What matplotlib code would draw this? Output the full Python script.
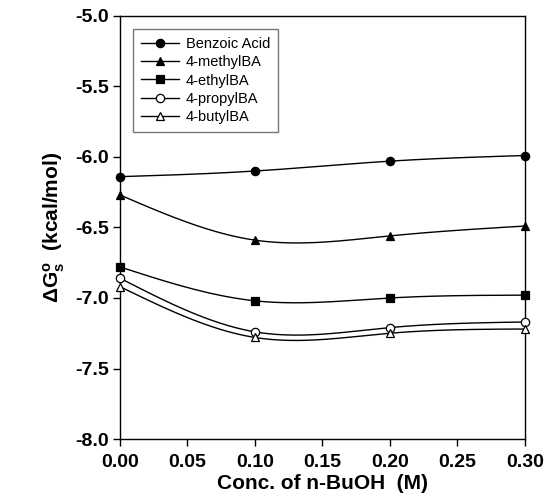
import numpy as np
import matplotlib
matplotlib.use("Agg")
import matplotlib.pyplot as plt

plt.rcParams["font.family"] = ["Liberation Sans", "DejaVu Sans"]
plt.rcParams["mathtext.fontset"] = "custom"
plt.rcParams["mathtext.rm"] = "Liberation Sans"
plt.rcParams["mathtext.bf"] = "Liberation Sans:bold"

conc = [0.00, 0.10, 0.20, 0.30]
benzoic = [-6.14, -6.10, -6.03, -5.99]
methyl = [-6.27, -6.59, -6.56, -6.49]
ethyl = [-6.78, -7.02, -7.00, -6.98]
propyl = [-6.86, -7.24, -7.21, -7.17]
butyl = [-6.92, -7.28, -7.25, -7.22]

labels = ["Benzoic Acid", "4-methylBA", "4-ethylBA", "4-propylBA", "4-butylBA"]
series = [benzoic, methyl, ethyl, propyl, butyl]
markers = ["o", "^", "s", "o", "^"]
filled = [True, True, True, False, False]


def natural_spline(x, y, n=200):
    """自然三次样条，画平滑曲线用"""
    x = np.asarray(x, float)
    y = np.asarray(y, float)
    k = len(x)
    h = np.diff(x)
    A = np.zeros((k, k))
    b = np.zeros(k)
    A[0, 0] = A[-1, -1] = 1
    for i in range(1, k - 1):
        A[i, i - 1] = h[i - 1]
        A[i, i] = 2 * (h[i - 1] + h[i])
        A[i, i + 1] = h[i]
        b[i] = 3 * ((y[i + 1] - y[i]) / h[i] - (y[i] - y[i - 1]) / h[i - 1])
    c = np.linalg.solve(A, b)
    xs = np.linspace(x[0], x[-1], n)
    ys = np.empty_like(xs)
    for j, xv in enumerate(xs):
        i = min(np.searchsorted(x, xv, side="right") - 1, k - 2)
        dx = xv - x[i]
        bi = (y[i + 1] - y[i]) / h[i] - h[i] * (2 * c[i] + c[i + 1]) / 3
        di = (c[i + 1] - c[i]) / (3 * h[i])
        ys[j] = y[i] + bi * dx + c[i] * dx ** 2 + di * dx ** 3
    return xs, ys


fig = plt.figure(figsize=(5.53, 4.95), dpi=100)
ax = fig.add_axes([0.217, 0.113, 0.732, 0.855])

for vals, lab, m, f in zip(series, labels, markers, filled):
    xs, ys = natural_spline(conc, vals)
    ax.plot(xs, ys, color="black", lw=1.0, zorder=2)
    ax.plot(conc, vals, linestyle="none", marker=m, markersize=6,
            markerfacecolor="black" if f else "white", markeredgecolor="black",
            markeredgewidth=0.9, clip_on=False, zorder=3)
    # 图例用的代理线
    ax.plot([], [], color="black", lw=1.0, marker=m, markersize=6,
            markerfacecolor="black" if f else "white", markeredgecolor="black",
            markeredgewidth=0.9, label=lab)

ax.set_xlim(0, 0.30)
ax.set_ylim(-8.0, -5.0)
ax.set_xticks(np.arange(0, 0.31, 0.05))
ax.set_yticks(np.arange(-8.0, -4.99, 0.5))
ax.set_xticklabels([f"{v:.2f}" for v in np.arange(0, 0.31, 0.05)])
ax.set_yticklabels([f"{v:.1f}" for v in np.arange(-8.0, -4.99, 0.5)])
ax.tick_params(direction="out", length=5, width=1, labelsize=14, pad=3)
ax.tick_params(axis="x", pad=6)
for lab in ax.get_xticklabels() + ax.get_yticklabels():
    lab.set_fontweight("bold")
for sp in ax.spines.values():
    sp.set_linewidth(1.0)

ax.set_xlabel("Conc. of n-BuOH  (M)", fontsize=15, fontweight="bold", labelpad=2)
ax.set_ylabel(r"$\mathbf{\Delta G^{o}_{s}}$  (kcal/mol)", fontsize=15,
              fontweight="bold", labelpad=6)

leg = ax.legend(loc="upper left", bbox_to_anchor=(0.015, 0.985), fontsize=10.5,
                frameon=True, fancybox=False, handlelength=2.6,
                borderpad=0.5, labelspacing=0.3, handletextpad=0.5)
leg.get_frame().set_edgecolor("#555555")
leg.get_frame().set_linewidth(1.0)

fig.savefig("out.png", dpi=100)
